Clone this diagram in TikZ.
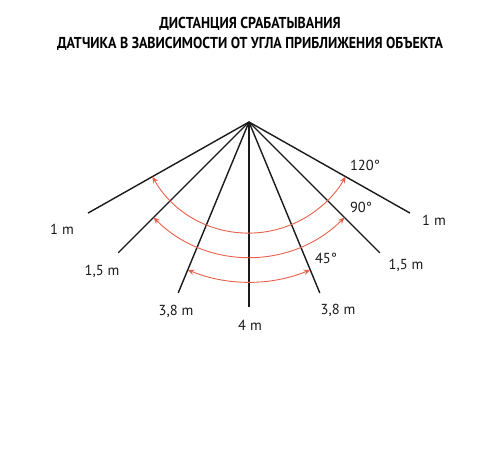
\documentclass[tikz,border=0pt]{standalone}
\usepackage{fontspec}
\setmainfont{PT Sans}
\newfontfamily\titlefont[FakeStretch=0.88]{PT Sans}
\usetikzlibrary{arrows.meta,calc}
\definecolor{ray}{HTML}{1A1A1A}
\definecolor{sweep}{HTML}{E8604A}

\begin{document}
\begin{tikzpicture}[x=1pt,y=1pt,
    beam/.style ={draw=ray, line width=1.4pt},
    sweeparc/.style ={draw=sweep, line width=0.9pt, {Stealth[length=6.5pt,width=5.5pt]}-{Stealth[length=6.5pt,width=5.5pt]}},
    distlabel/.style ={font=\fontsize{14.5}{16}\selectfont, text=ray, inner sep=0pt},
    anglelabel/.style ={font=\fontsize{14.5}{16}\selectfont, text=ray, inner sep=0pt}]
   \useasboundingbox (0,0) rectangle (500,450);
   % title
   \node[font=\titlefont\bfseries\fontsize{15.8}{19.5}\selectfont, align=center] (title) at (250,416)
     {ДИСТАНЦИЯ СРАБАТЫВАНИЯ\\ДАТЧИКА В ЗАВИСИМОСТИ ОТ УГЛА ПРИБЛИЖЕНИЯ ОБЪЕКТА};

   \coordinate (S) at (249,328);
   \coordinate (L1)  at ($(S)+(209.5:185)$);
   \coordinate (L15) at ($(S)+(225:185)$);
   \coordinate (L38) at ($(S)+(247.5:185)$);
   \coordinate (M4)  at ($(S)+(270:185)$);
   \coordinate (R38) at ($(S)+(292.5:185)$);
   \coordinate (R15) at ($(S)+(315:185)$);
   \coordinate (R1)  at ($(S)+(330.5:185)$);

   \draw[beam] (S) to (L1);
   \draw[beam] (S) to (L15);
   \draw[beam] (S) to (L38);
   \draw[beam] (S) to (M4);
   \draw[beam] (S) to (R38);
   \draw[beam] (S) to (R15);
   \draw[beam] (S) to (R1);

   % arcs
   \draw[sweeparc] ($(S)+(209.5:111)$) arc (209.5:330.5:111);
   \draw[sweeparc] ($(S)+(225:135)$) arc (225:315:135);
   \draw[sweeparc] ($(S)+(247.5:160)$) arc (247.5:292.5:160);

   \node[distlabel] (t1l)  at (62,221)  {1 m};
   \node[distlabel] (t1r)  at (434,230) {1 m};
   \node[distlabel] (t15l) at (102,179) {1,5 m};
   \node[distlabel] (t15r) at (406,185) {1,5 m};
   \node[distlabel] (t38l) at (176,139) {3,8 m};
   \node[distlabel] (t38r) at (338,140) {3,8 m};
   \node[distlabel] (t4)   at (250,125) {4 m};

   \node[anglelabel] (a120) at (365,285) {120°};
   \node[anglelabel] (a90)  at (361,243) {90°};
   \node[anglelabel] (a45)  at (326,192) {45°};
 \end{tikzpicture}
\end{document}
